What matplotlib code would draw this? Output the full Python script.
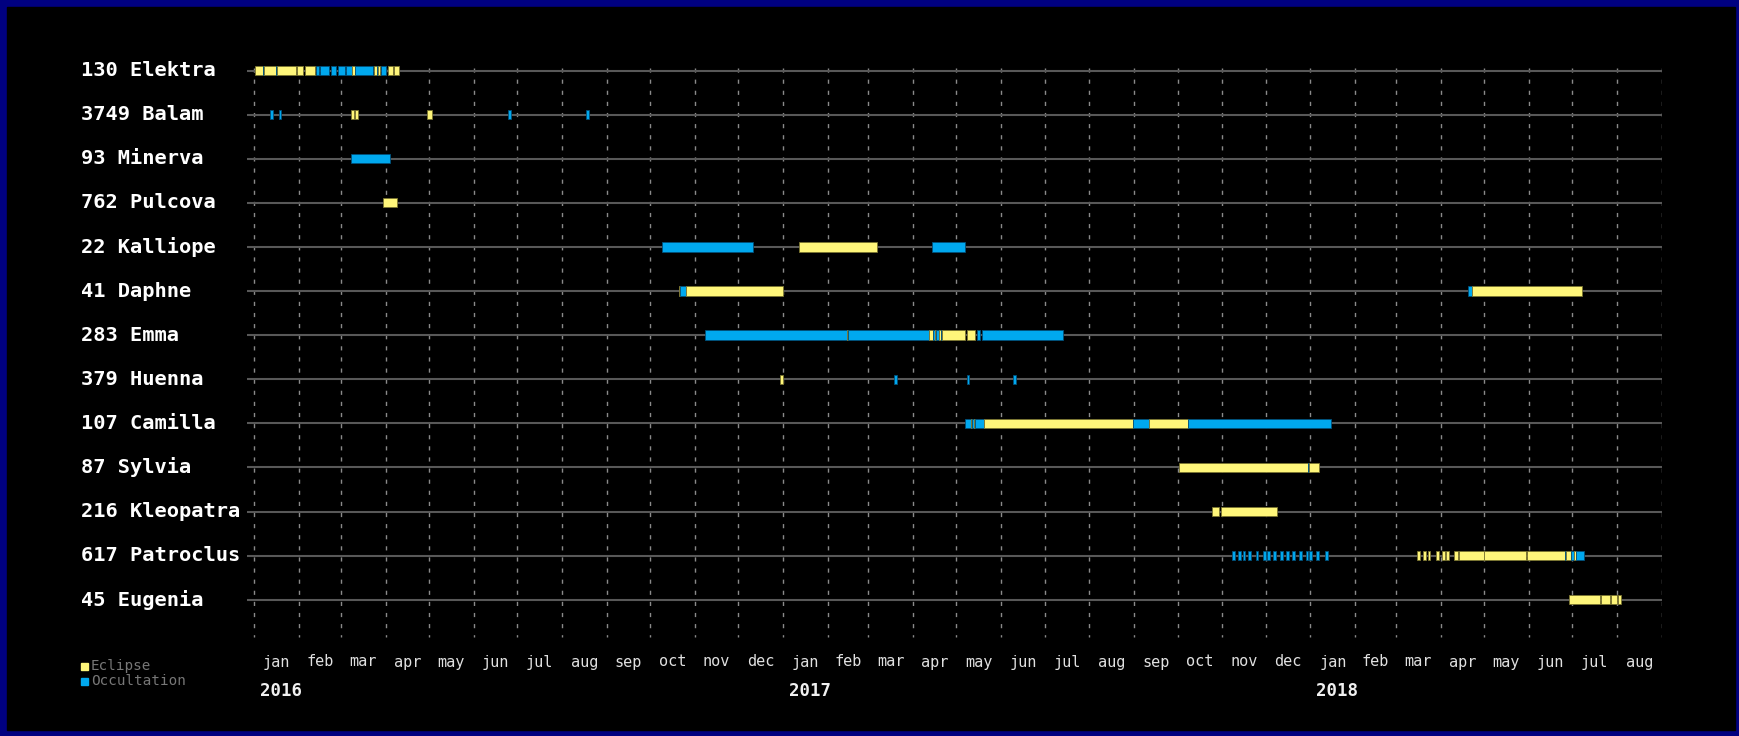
import matplotlib
matplotlib.use("Agg")
import matplotlib.pyplot as plt
import matplotlib.dates as mdates
from matplotlib.patches import Rectangle
from matplotlib.transforms import blended_transform_factory
import pandas as pd

asteroids = ["130 Elektra", "3749 Balam", "93 Minerva", "762 Pulcova",
             "22 Kalliope", "41 Daphne", "283 Emma", "379 Huenna",
             "107 Camilla", "87 Sylvia", "216 Kleopatra", "617 Patroclus",
             "45 Eugenia"]

# (kind, start, end)   E = eclipse, O = occultation
elektra = [("E", "2016-01-02", "2016-01-07"), ("O", "2016-01-07", "2016-01-08"),
           ("E", "2016-01-08", "2016-01-16"), ("O", "2016-01-16", "2016-01-17"),
           ("E", "2016-01-17", "2016-01-30"), ("E", "2016-01-31", "2016-02-04"),
           ("E", "2016-02-05", "2016-02-12"), ("O", "2016-02-13", "2016-02-15"),
           ("O", "2016-02-16", "2016-02-22"), ("O", "2016-02-23", "2016-02-27"),
           ("O", "2016-02-28", "2016-03-04"), ("O", "2016-03-05", "2016-03-09"),
           ("E", "2016-03-09", "2016-03-11"), ("O", "2016-03-11", "2016-03-23"),
           ("E", "2016-03-24", "2016-03-26"), ("O", "2016-03-26", "2016-03-27"),
           ("E", "2016-03-27", "2016-03-28"), ("O", "2016-03-29", "2016-04-01"),
           ("E", "2016-04-03", "2016-04-06"), ("E", "2016-04-07", "2016-04-10")]
balam = [("O", "2016-01-12", "2016-01-14"), ("O", "2016-01-18", "2016-01-20"),
         ("E", "2016-03-08", "2016-03-10"), ("E", "2016-03-11", "2016-03-13"),
         ("E", "2016-04-30", "2016-05-03"), ("O", "2016-06-25", "2016-06-27"),
         ("O", "2016-08-18", "2016-08-20")]
minerva = [("O", "2016-03-08", "2016-04-04")]
pulcova = [("E", "2016-03-30", "2016-04-09")]
kalliope = [("O", "2016-10-09", "2016-12-11"), ("E", "2017-01-12", "2017-03-07"),
            ("O", "2017-04-14", "2017-05-07")]
daphne = [("E", "2016-10-21", "2016-10-22"), ("O", "2016-10-22", "2016-10-26"),
          ("E", "2016-10-26", "2017-01-01"), ("O", "2018-04-20", "2018-04-23"),
          ("E", "2018-04-23", "2018-07-08")]
emma = [("O", "2016-11-08", "2017-02-14"), ("E", "2017-02-14", "2017-02-15"),
        ("O", "2017-02-15", "2017-04-12"), ("E", "2017-04-12", "2017-04-15"),
        ("O", "2017-04-15", "2017-04-16"), ("E", "2017-04-16", "2017-04-17"),
        ("O", "2017-04-17", "2017-04-19"), ("E", "2017-04-19", "2017-04-20"),
        ("O", "2017-04-20", "2017-04-21"), ("E", "2017-04-21", "2017-05-07"),
        ("E", "2017-05-08", "2017-05-14"), ("O", "2017-05-15", "2017-05-17"),
        ("O", "2017-05-19", "2017-07-14")]
huenna = [("E", "2016-12-30", "2017-01-01"), ("O", "2017-03-19", "2017-03-21"),
          ("O", "2017-05-08", "2017-05-10"), ("O", "2017-06-09", "2017-06-11")]
camilla = [("O", "2017-05-07", "2017-05-11"), ("E", "2017-05-11", "2017-05-12"),
           ("O", "2017-05-12", "2017-05-13"), ("E", "2017-05-13", "2017-05-14"),
           ("O", "2017-05-14", "2017-05-20"), ("E", "2017-05-20", "2017-08-31"),
           ("O", "2017-08-31", "2017-09-11"), ("E", "2017-09-11", "2017-10-08"),
           ("O", "2017-10-08", "2018-01-15")]
sylvia = [("E", "2017-10-02", "2017-12-30"), ("O", "2017-12-30", "2017-12-31"),
          ("E", "2017-12-31", "2018-01-07")]
kleopatra = [("E", "2017-10-25", "2017-10-30"), ("E", "2017-10-31", "2017-12-09")]
patroclus = [("O", "2017-11-08", "2017-11-10"), ("O", "2017-11-12", "2017-11-14"),
             ("O", "2017-11-15", "2017-11-17"), ("O", "2017-11-19", "2017-11-21"),
             ("O", "2017-11-24", "2017-11-26"), ("O", "2017-11-29", "2017-12-01"),
             ("O", "2017-12-02", "2017-12-04"), ("O", "2017-12-06", "2017-12-08"),
             ("O", "2017-12-11", "2017-12-13"), ("O", "2017-12-15", "2017-12-17"),
             ("O", "2017-12-19", "2017-12-21"), ("O", "2017-12-24", "2017-12-26"),
             ("O", "2017-12-29", "2017-12-30"), ("O", "2017-12-31", "2018-01-02"),
             ("O", "2018-01-05", "2018-01-07"), ("O", "2018-01-11", "2018-01-13"),
             ("E", "2018-03-16", "2018-03-18"), ("E", "2018-03-20", "2018-03-22"),
             ("E", "2018-03-23", "2018-03-25"), ("E", "2018-03-29", "2018-03-31"),
             ("E", "2018-04-02", "2018-04-04"), ("E", "2018-04-05", "2018-04-07"),
             ("E", "2018-04-10", "2018-04-13"), ("E", "2018-04-14", "2018-05-01"),
             ("E", "2018-05-01", "2018-05-30"), ("E", "2018-05-31", "2018-06-26"),
             ("O", "2018-06-26", "2018-06-27"), ("E", "2018-06-27", "2018-06-30"),
             ("O", "2018-06-30", "2018-07-02"), ("E", "2018-07-02", "2018-07-04"),
             ("O", "2018-07-04", "2018-07-09")]
eugenia = [("E", "2018-06-29", "2018-07-20"), ("E", "2018-07-21", "2018-07-27"),
           ("E", "2018-07-28", "2018-08-01"), ("E", "2018-08-02", "2018-08-04")]

rows = [elektra, balam, minerva, pulcova, kalliope, daphne, emma, huenna,
        camilla, sylvia, kleopatra, patroclus, eugenia]

month_names = ["jan", "feb", "mar", "apr", "may", "jun", "jul", "aug",
               "sep", "oct", "nov", "dec"]
years = [2016, 2017, 2018]
start_date = "2016-01-01"
end_date = "2018-09-01"

colors = {"E": "#fff67a", "O": "#00a8ee"}
edges = {"E": "#7a7430", "O": "#00507a"}

W, H = 1739, 736
MONO = "DejaVu Sans Mono"

fig = plt.figure(figsize=(W / 100, H / 100), dpi=100, facecolor="#000080")
fig.patches.append(Rectangle((7 / W, 6 / H), (1735 - 7) / W, (729 - 6) / H,
                             transform=fig.transFigure, color="black", zorder=-10))

top_px, bot_px = 59.5, 639.4
left_px, right_px = 247, 1661.7
ax = fig.add_axes([left_px / W, 1 - bot_px / H, (right_px - left_px) / W,
                   (bot_px - top_px) / H])
ax.set_facecolor("none")
ax.axis("off")

x0 = mdates.date2num(pd.Timestamp(start_date))
x1 = mdates.date2num(pd.Timestamp(end_date))
px_per_day = (right_px - 254) / (x1 - x0)
ax.set_xlim(x0 - 7 / px_per_day, x1)
ax.set_ylim(12.9, -0.25)

# month grid
month_starts = pd.date_range(start_date, end_date, freq="MS")
ax.vlines(mdates.date2num(month_starts), -0.05, 12.85, colors="#8a8a8a",
          linestyles=(0, (3, 5)), lw=1, zorder=1)

# row lines
ax.hlines(range(len(asteroids)), x0 - 7 / px_per_day, x1, colors="#585858",
          lw=1.5, zorder=2)

for i, segs in enumerate(rows):
    for kind, s, e in segs:
        ds = mdates.date2num(pd.Timestamp(s))
        de = mdates.date2num(pd.Timestamp(e))
        ax.barh(i, de - ds, left=ds, height=0.21, color=colors[kind],
                edgecolor=edges[kind], lw=0.6, zorder=3)

# asteroid names
tr_names = blended_transform_factory(fig.transFigure, ax.transData)
for i, name in enumerate(asteroids):
    ax.text(81 / W, i, name, transform=tr_names, ha="left", va="center",
            fontsize=14.7, fontweight="bold", color="white", family=MONO)

# month and year labels
tr_x = blended_transform_factory(ax.transData, fig.transFigure)
for a, b in zip(month_starts[:-1], month_starts[1:]):
    mid = (mdates.date2num(a) + mdates.date2num(b)) / 2
    ax.text(mid, 1 - 662 / H, month_names[a.month - 1], transform=tr_x,
            ha="center", va="center", fontsize=11, color="#e0e0e0", family=MONO)
for y in years:
    xd = mdates.date2num(pd.Timestamp(f"{y}-01-01")) + 4
    ax.text(xd, 1 - 691 / H, str(y), transform=tr_x, ha="left", va="center",
            fontsize=12.5, fontweight="bold", color="#f0f0f0", family=MONO)

# legend
for label, kind, ypx in [("Eclipse", "E", 666), ("Occultation", "O", 681)]:
    fig.patches.append(Rectangle((81 / W, 1 - (ypx + 3.5) / H), 7 / W, 7 / H,
                                 transform=fig.transFigure, color=colors[kind]))
    fig.text(91 / W, 1 - ypx / H, label, ha="left", va="center",
             fontsize=10.3, color="#777777", family=MONO)

fig.savefig("out.png", dpi=100, facecolor=fig.get_facecolor())
